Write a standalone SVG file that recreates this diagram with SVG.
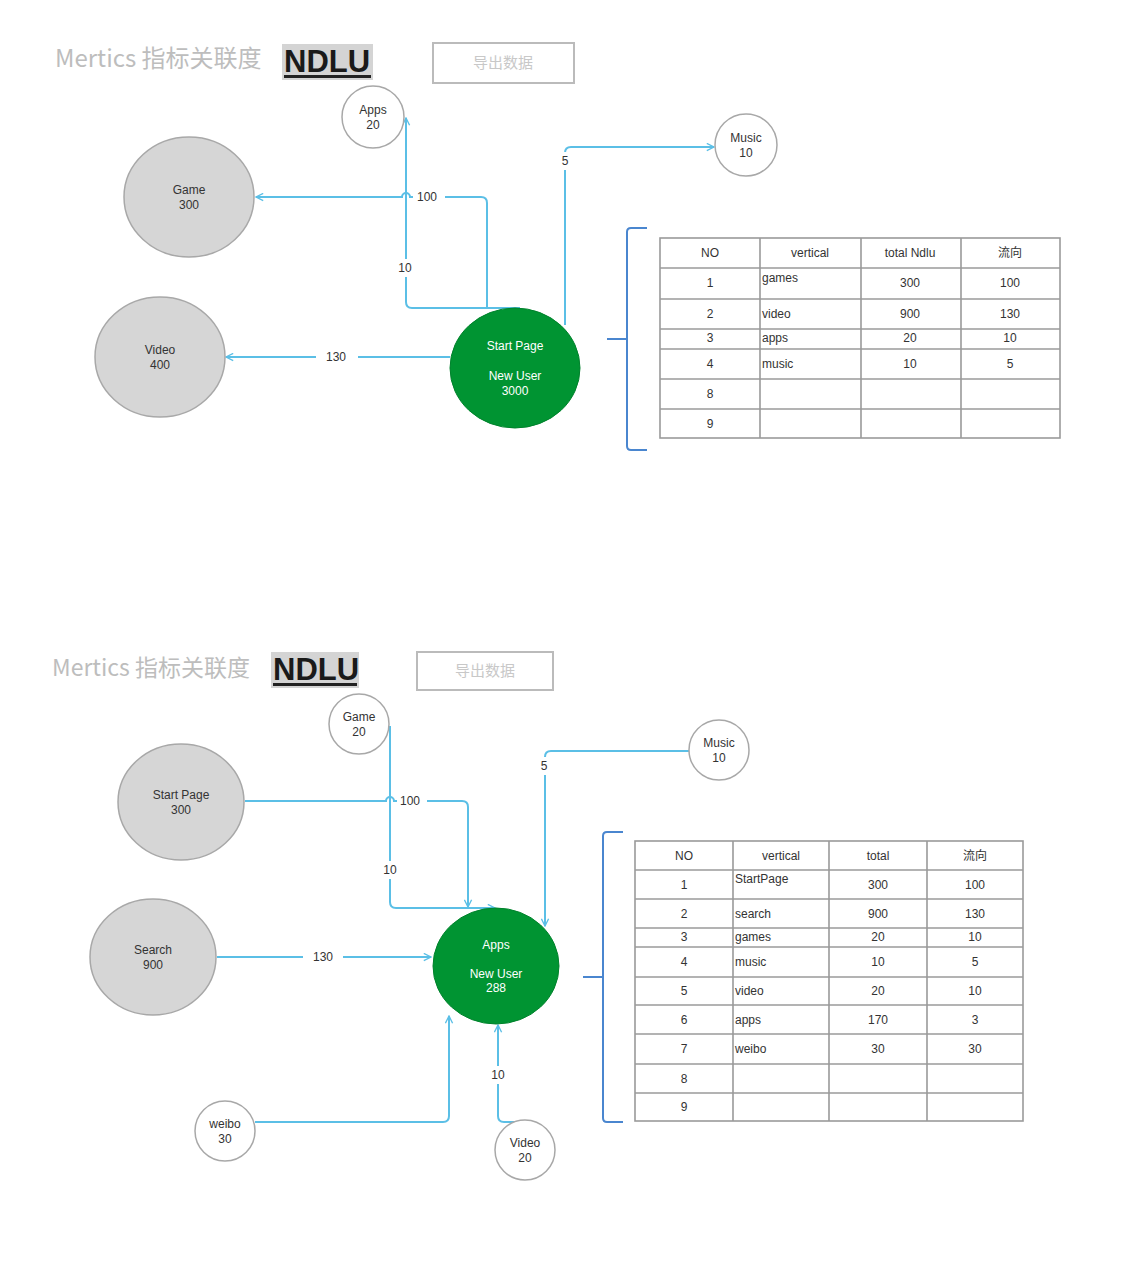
<svg xmlns="http://www.w3.org/2000/svg" width="1142" height="1272" viewBox="0 0 1142 1272">
<style>
.title{font-family:"Noto Sans CJK SC","Liberation Sans",sans-serif;font-size:23px;fill:#bdbdbd;}
.ndlu{font-family:"Liberation Sans",Arial,sans-serif;font-size:31px;font-weight:bold;fill:#1a1a1a;}
.btn{fill:#fff;stroke:#bbb;stroke-width:2;}
.btnt{font-family:"Noto Sans CJK SC",sans-serif;font-size:15px;fill:#c8c8c8;text-anchor:middle;}
.gray{fill:#d6d6d6;stroke:#a8a8a8;stroke-width:1.5;}
.white{fill:#fff;stroke:#a8a8a8;stroke-width:1.5;}
.green{fill:#009432;stroke:#00822c;stroke-width:1;}
.nt{font-family:"Liberation Sans",Arial,sans-serif;font-size:12px;fill:#333;text-anchor:middle;}
.wt{font-family:"Liberation Sans",Arial,sans-serif;font-size:12px;fill:#fff;text-anchor:middle;}
.conn{fill:none;stroke:#5bbfe6;stroke-width:2;}
.lbl{font-family:"Liberation Sans",Arial,sans-serif;font-size:12px;fill:#333;text-anchor:middle;}
.lbg{fill:#fff;}
.tbl{fill:none;stroke:#9a9a9a;stroke-width:1.6;}
.tt{font-family:"Liberation Sans","Noto Sans CJK SC",sans-serif;font-size:12px;fill:#333;text-anchor:middle;}
.tl{font-family:"Liberation Sans",sans-serif;font-size:12px;fill:#333;}
.brace{fill:none;stroke:#4a86cf;stroke-width:2;}
</style>
<defs>
<marker id="arr" viewBox="0 0 10 10" refX="9" refY="5" markerWidth="9" markerHeight="9" orient="auto" markerUnits="userSpaceOnUse">
<path d="M1,1 L9,5 L1,9" fill="none" stroke="#5bbfe6" stroke-width="1.5"/>
</marker>
</defs>
<rect width="1142" height="1272" fill="#fff"/>

<!-- ===== TOP SECTION ===== -->
<g id="header-top">
<text class="title" x="55" y="67" style="font-size:24px">Mertics 指标关联度</text>
<rect x="282" y="44" width="91" height="36" fill="#d4d4d4"/>
<text class="ndlu" x="284" y="72">NDLU</text>
<rect x="284" y="75" width="87" height="3" fill="#222"/>
</g>
<g id="export-top">
<rect class="btn" x="433" y="43" width="141" height="40"/>
<text class="btnt" x="503" y="68">导出数据</text>
</g>

<g id="connectors-top">
<path class="conn" marker-end="url(#arr)" d="M487,308 V203 Q487,197 481,197 H410 A4,4 0 0 0 402,197 H256"/>
<path class="conn" marker-end="url(#arr)" d="M520,308 H412 Q406,308 406,302 V118"/>
<path class="conn" marker-end="url(#arr)" d="M450,357 H226"/>
<path class="conn" marker-end="url(#arr)" d="M565,325 V153 Q565,147 571,147 H714"/>
<rect class="lbg" x="413" y="189" width="32" height="16"/>
<text class="lbl" x="427" y="201">100</text>
<rect class="lbg" x="396" y="259" width="20" height="18"/>
<text class="lbl" x="405" y="272">10</text>
<rect class="lbg" x="316" y="349" width="42" height="16"/>
<text class="lbl" x="336" y="361">130</text>
<rect class="lbg" x="558" y="152" width="14" height="18"/>
<text class="lbl" x="565" y="165">5</text>
</g>

<g id="node-apps-top">
<circle class="white" cx="373" cy="117" r="31"/>
<text class="nt" x="373" y="114">Apps</text>
<text class="nt" x="373" y="129">20</text>
</g>
<g id="node-game-top">
<ellipse class="gray" cx="189" cy="197" rx="65" ry="60"/>
<text class="nt" x="189" y="194">Game</text>
<text class="nt" x="189" y="209">300</text>
</g>
<g id="node-video-top">
<ellipse class="gray" cx="160" cy="357" rx="65" ry="60"/>
<text class="nt" x="160" y="354">Video</text>
<text class="nt" x="160" y="369">400</text>
</g>
<g id="node-start-top">
<ellipse class="green" cx="515" cy="368" rx="65" ry="60"/>
<text class="wt" x="515" y="350">Start  Page</text>
<text class="wt" x="515" y="380">New User</text>
<text class="wt" x="515" y="395">3000</text>
</g>
<g id="node-music-top">
<circle class="white" cx="746" cy="145" r="31"/>
<text class="nt" x="746" y="142">Music</text>
<text class="nt" x="746" y="157">10</text>
</g>

<g id="table-top">
<path class="brace" d="M647,228 H631 Q627,228 627,232 V446 Q627,450 631,450 H647 M627,339 H607"/>
<rect class="tbl" x="660" y="238" width="400" height="200"/>
<path class="tbl" d="M760,238 V438 M861,238 V438 M961,238 V438 M660,268 H1060 M660,299 H1060 M660,329 H1060 M660,349 H1060 M660,379 H1060 M660,409 H1060"/>
<text class="tt" x="710" y="257">NO</text>
<text class="tt" x="810" y="257">vertical</text>
<text class="tt" x="910" y="257">total Ndlu</text>
<text class="tt" x="1010" y="257">流向</text>
<text class="tt" x="710" y="287">1</text><text class="tl" x="762" y="282">games</text><text class="tt" x="910" y="287">300</text><text class="tt" x="1010" y="287">100</text>
<text class="tt" x="710" y="318">2</text><text class="tl" x="762" y="318">video</text><text class="tt" x="910" y="318">900</text><text class="tt" x="1010" y="318">130</text>
<text class="tt" x="710" y="342">3</text><text class="tl" x="762" y="342">apps</text><text class="tt" x="910" y="342">20</text><text class="tt" x="1010" y="342">10</text>
<text class="tt" x="710" y="368">4</text><text class="tl" x="762" y="368">music</text><text class="tt" x="910" y="368">10</text><text class="tt" x="1010" y="368">5</text>
<text class="tt" x="710" y="398">8</text>
<text class="tt" x="710" y="428">9</text>
</g>

<!-- ===== BOTTOM SECTION ===== -->
<g id="header-bottom">
<text class="title" x="52" y="676">Mertics 指标关联度</text>
<rect x="271" y="652" width="88" height="36" fill="#d4d4d4"/>
<text class="ndlu" x="273" y="680">NDLU</text>
<rect x="273" y="683" width="84" height="3" fill="#222"/>
</g>
<g id="export-bottom">
<rect class="btn" x="417" y="652" width="136" height="38"/>
<text class="btnt" x="485" y="676">导出数据</text>
</g>

<g id="connectors-bottom">
<path class="conn" marker-end="url(#arr)" d="M245,801 H386 A4,4 0 0 1 394,801 H462 Q468,801 468,807 V907"/>
<path class="conn" marker-end="url(#arr)" d="M390,726 V902 Q390,908 396,908 H495"/>
<path class="conn" marker-end="url(#arr)" d="M689,751 H551 Q545,751 545,757 V926"/>
<path class="conn" marker-end="url(#arr)" d="M217,957 H431"/>
<path class="conn" marker-end="url(#arr)" d="M255,1122 H443 Q449,1122 449,1116 V1016"/>
<path class="conn" marker-end="url(#arr)" d="M517,1122 H504 Q498,1122 498,1116 V1025"/>
<rect class="lbg" x="397" y="793" width="30" height="16"/>
<text class="lbl" x="410" y="805">100</text>
<rect class="lbg" x="381" y="861" width="20" height="18"/>
<text class="lbl" x="390" y="874">10</text>
<rect class="lbg" x="537" y="757" width="14" height="18"/>
<text class="lbl" x="544" y="770">5</text>
<rect class="lbg" x="303" y="949" width="40" height="16"/>
<text class="lbl" x="323" y="961">130</text>
<rect class="lbg" x="489" y="1066" width="20" height="18"/>
<text class="lbl" x="498" y="1079">10</text>
</g>

<g id="node-game-bottom">
<circle class="white" cx="359" cy="724" r="30"/>
<text class="nt" x="359" y="721">Game</text>
<text class="nt" x="359" y="736">20</text>
</g>
<g id="node-music-bottom">
<circle class="white" cx="719" cy="750" r="30"/>
<text class="nt" x="719" y="747">Music</text>
<text class="nt" x="719" y="762">10</text>
</g>
<g id="node-startpage-bottom">
<ellipse class="gray" cx="181" cy="802" rx="63" ry="58"/>
<text class="nt" x="181" y="799">Start Page</text>
<text class="nt" x="181" y="814">300</text>
</g>
<g id="node-search-bottom">
<ellipse class="gray" cx="153" cy="957" rx="63" ry="58"/>
<text class="nt" x="153" y="954">Search</text>
<text class="nt" x="153" y="969">900</text>
</g>
<g id="node-apps-bottom">
<ellipse class="green" cx="496" cy="966" rx="63" ry="58"/>
<text class="wt" x="496" y="949">Apps</text>
<text class="wt" x="496" y="978">New User</text>
<text class="wt" x="496" y="992">288</text>
</g>
<g id="node-weibo-bottom">
<circle class="white" cx="225" cy="1131" r="30"/>
<text class="nt" x="225" y="1128">weibo</text>
<text class="nt" x="225" y="1143">30</text>
</g>
<g id="node-video-bottom">
<circle class="white" cx="525" cy="1150" r="30"/>
<text class="nt" x="525" y="1147">Video</text>
<text class="nt" x="525" y="1162">20</text>
</g>

<g id="table-bottom">
<path class="brace" d="M623,832 H607 Q603,832 603,836 V1118 Q603,1122 607,1122 H623 M603,977 H583"/>
<rect class="tbl" x="635" y="841" width="388" height="280"/>
<path class="tbl" d="M733,841 V1121 M829,841 V1121 M927,841 V1121 M635,870 H1023 M635,899 H1023 M635,928 H1023 M635,947 H1023 M635,977 H1023 M635,1005 H1023 M635,1034 H1023 M635,1064 H1023 M635,1093 H1023"/>
<text class="tt" x="684" y="860">NO</text>
<text class="tt" x="781" y="860">vertical</text>
<text class="tt" x="878" y="860">total</text>
<text class="tt" x="975" y="860">流向</text>
<text class="tt" x="684" y="889">1</text><text class="tl" x="735" y="883">StartPage</text><text class="tt" x="878" y="889">300</text><text class="tt" x="975" y="889">100</text>
<text class="tt" x="684" y="918">2</text><text class="tl" x="735" y="918">search</text><text class="tt" x="878" y="918">900</text><text class="tt" x="975" y="918">130</text>
<text class="tt" x="684" y="941">3</text><text class="tl" x="735" y="941">games</text><text class="tt" x="878" y="941">20</text><text class="tt" x="975" y="941">10</text>
<text class="tt" x="684" y="966">4</text><text class="tl" x="735" y="966">music</text><text class="tt" x="878" y="966">10</text><text class="tt" x="975" y="966">5</text>
<text class="tt" x="684" y="995">5</text><text class="tl" x="735" y="995">video</text><text class="tt" x="878" y="995">20</text><text class="tt" x="975" y="995">10</text>
<text class="tt" x="684" y="1024">6</text><text class="tl" x="735" y="1024">apps</text><text class="tt" x="878" y="1024">170</text><text class="tt" x="975" y="1024">3</text>
<text class="tt" x="684" y="1053">7</text><text class="tl" x="735" y="1053">weibo</text><text class="tt" x="878" y="1053">30</text><text class="tt" x="975" y="1053">30</text>
<text class="tt" x="684" y="1083">8</text>
<text class="tt" x="684" y="1111">9</text>
</g>
</svg>
